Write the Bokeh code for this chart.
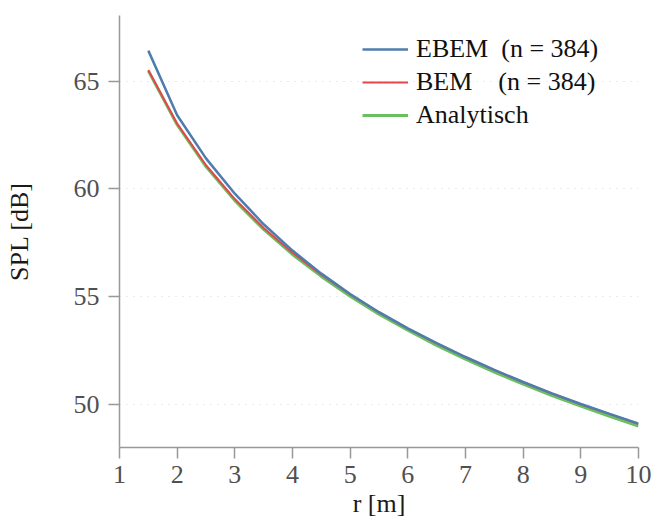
from bokeh.plotting import figure
from bokeh.models import Legend, LegendItem, Range1d, FixedTicker
from bokeh.embed import file_html
from bokeh.resources import INLINE

r = [1.5, 2.0, 2.5, 3.0, 3.5, 4.0, 4.5, 5.0, 5.5, 6.0, 6.5, 7.0, 7.5, 8.0, 8.5, 9.0, 9.5, 10.0]
ebem = [66.42, 63.42, 61.42, 59.78, 58.36, 57.14, 56.07, 55.12, 54.28, 53.53, 52.84, 52.20, 51.60, 51.04, 50.51, 50.02, 49.56, 49.11]
bem = [65.52, 63.03, 61.10, 59.53, 58.19, 57.04, 56.02, 55.10, 54.27, 53.52, 52.83, 52.19, 51.59, 51.03, 50.50, 50.01, 49.55, 49.10]
analytisch = [65.48, 62.98, 61.04, 59.46, 58.12, 56.96, 55.94, 55.02, 54.19, 53.44, 52.74, 52.10, 51.50, 50.94, 50.41, 49.92, 49.45, 49.00]

x_ticks = [1, 2, 3, 4, 5, 6, 7, 8, 9, 10]
y_ticks = [50, 55, 60, 65]
labels = ["EBEM  (n = 384)", "BEM    (n = 384)", "Analytisch"]

FONT = "Liberation Serif"
FS = "26px"

p = figure(width=653, height=521, output_backend="svg", toolbar_location=None,
           x_range=Range1d(1, 10), y_range=Range1d(48, 68.05),
           min_border_left=119, min_border_right=15, min_border_top=15, min_border_bottom=74)
p.outline_line_color = None
p.background_fill_color = "white"

g = p.line(r, analytisch, line_color="#6ABF5E", line_width=3)
rr = p.line(r, bem, line_color="#E8454A", line_width=2)
b = p.line(r, ebem, line_color="#4F7CAE", line_width=2.5)

for ax in (p.xaxis[0], p.yaxis[0]):
    ax.axis_line_color = "#999999"
    ax.axis_line_width = 1.5
    ax.major_tick_line_color = "#999999"
    ax.major_tick_line_width = 1.5
    ax.major_tick_in = 0
    ax.minor_tick_line_color = None
    ax.major_label_text_font = FONT
    ax.major_label_text_font_size = FS
    ax.major_label_text_color = "#505050"
    ax.axis_label_text_font = FONT
    ax.axis_label_text_font_size = FS
    ax.axis_label_text_color = "#1a1a1a"
    ax.axis_label_text_font_style = "normal"

p.xaxis.ticker = FixedTicker(ticks=x_ticks)
p.yaxis.ticker = FixedTicker(ticks=y_ticks)
p.xaxis.major_tick_out = 11
p.yaxis.major_tick_out = 11
p.xaxis.major_label_standoff = 7
p.yaxis.major_label_standoff = 9
p.yaxis.axis_label = "SPL [dB]"
p.yaxis.axis_label_standoff = 37
p.xaxis.axis_label = "r [m]"
p.xaxis.axis_label_standoff = 3

p.xgrid.grid_line_color = None
p.ygrid.grid_line_color = "#d8d8d8"
p.ygrid.grid_line_dash = "1 6"
p.ygrid.grid_line_width = 1.2

legend = Legend(items=[LegendItem(label=labels[0], renderers=[b]),
                       LegendItem(label=labels[1], renderers=[rr]),
                       LegendItem(label=labels[2], renderers=[g])],
                location=(243, 316))
legend.border_line_color = None
legend.background_fill_alpha = 0
legend.padding = 0
legend.margin = 0
legend.spacing = 1
legend.glyph_width = 46
legend.glyph_height = 32
legend.label_height = 32
legend.label_standoff = 8
legend.label_text_font = FONT
legend.label_text_font_size = FS
legend.label_text_color = "#111111"
p.add_layout(legend, "center")

open("out.html", "w").write(file_html(p, INLINE))
